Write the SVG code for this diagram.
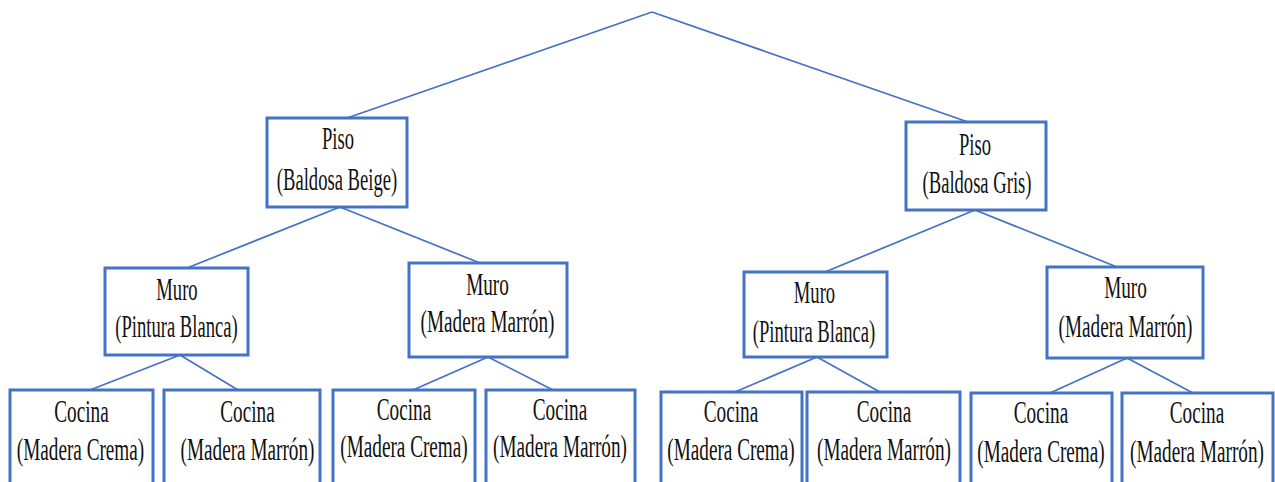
<svg xmlns="http://www.w3.org/2000/svg" width="1275" height="482" viewBox="0 0 1275 482">
<style>
.box{fill:#ffffff;stroke:#4472C4;stroke-width:3}
.ln{stroke:#4472C4;stroke-width:1.7;fill:none}
text{font-family:"Liberation Serif","Times New Roman",serif;font-size:31px;fill:#111111;text-anchor:middle}
</style>
<rect width="1275" height="482" fill="#ffffff"/>
<g id="connectors">
<line class="ln" x1="652" y1="12" x2="347" y2="118"/>
<line class="ln" x1="652" y1="12" x2="968" y2="122"/>
<line class="ln" x1="340" y1="207" x2="187" y2="268"/>
<line class="ln" x1="340" y1="207" x2="480" y2="263"/>
<line class="ln" x1="975" y1="210" x2="825" y2="272"/>
<line class="ln" x1="975" y1="210" x2="1117" y2="267"/>
<line class="ln" x1="180" y1="355" x2="90" y2="390"/>
<line class="ln" x1="180" y1="355" x2="238" y2="390"/>
<line class="ln" x1="488" y1="357" x2="413" y2="390"/>
<line class="ln" x1="488" y1="357" x2="553" y2="390"/>
<line class="ln" x1="817" y1="357" x2="735" y2="392"/>
<line class="ln" x1="817" y1="357" x2="880" y2="392"/>
<line class="ln" x1="1127" y1="358" x2="1050" y2="393"/>
<line class="ln" x1="1127" y1="358" x2="1193" y2="393"/>
</g>
<g id="piso1">
<rect class="box" x="267" y="118" width="140" height="89"/>
<text transform="translate(338,149) scale(0.6,1)">Piso</text>
<text transform="translate(337,190) scale(0.6,1)">(Baldosa Beige)</text>
</g>
<g id="piso2">
<rect class="box" x="906" y="122" width="140" height="88"/>
<text transform="translate(975,155) scale(0.6,1)">Piso</text>
<text transform="translate(977,193) scale(0.6,1)">(Baldosa Gris)</text>
</g>
<g id="muro1">
<rect class="box" x="105" y="268" width="143" height="87"/>
<text transform="translate(177,300) scale(0.6,1)">Muro</text>
<text transform="translate(176.5,337) scale(0.6,1)">(Pintura Blanca)</text>
</g>
<g id="muro2">
<rect class="box" x="409" y="263" width="158" height="94"/>
<text transform="translate(487.5,295) scale(0.62,1)">Muro</text>
<text transform="translate(487.5,332) scale(0.62,1)">(Madera Marrón)</text>
</g>
<g id="muro3">
<rect class="box" x="744" y="272" width="143" height="85"/>
<text transform="translate(814.5,303) scale(0.6,1)">Muro</text>
<text transform="translate(814,342) scale(0.6,1)">(Pintura Blanca)</text>
</g>
<g id="muro4">
<rect class="box" x="1047" y="267" width="156" height="91"/>
<text transform="translate(1125.5,298) scale(0.62,1)">Muro</text>
<text transform="translate(1125.5,337) scale(0.62,1)">(Madera Marrón)</text>
</g>
<g id="cocina1">
<rect class="box" x="10" y="390" width="143" height="110"/>
<text transform="translate(81.5,422) scale(0.62,1)">Cocina</text>
<text transform="translate(80.5,460) scale(0.62,1)">(Madera Crema)</text>
</g>
<g id="cocina2">
<rect class="box" x="164" y="390" width="156" height="110"/>
<text transform="translate(247.5,422) scale(0.62,1)">Cocina</text>
<text transform="translate(247.5,460) scale(0.62,1)">(Madera Marrón)</text>
</g>
<g id="cocina3">
<rect class="box" x="333" y="390" width="142" height="110"/>
<text transform="translate(404,420) scale(0.62,1)">Cocina</text>
<text transform="translate(404,457) scale(0.62,1)">(Madera Crema)</text>
</g>
<g id="cocina4">
<rect class="box" x="486" y="390" width="149" height="110"/>
<text transform="translate(560,420) scale(0.62,1)">Cocina</text>
<text transform="translate(560,457) scale(0.62,1)">(Madera Marrón)</text>
</g>
<g id="cocina5">
<rect class="box" x="661" y="392" width="141" height="110"/>
<text transform="translate(731,422) scale(0.62,1)">Cocina</text>
<text transform="translate(731,460) scale(0.62,1)">(Madera Crema)</text>
</g>
<g id="cocina6">
<rect class="box" x="807" y="392" width="153" height="110"/>
<text transform="translate(884,422) scale(0.62,1)">Cocina</text>
<text transform="translate(884,460) scale(0.62,1)">(Madera Marrón)</text>
</g>
<g id="cocina7">
<rect class="box" x="971" y="393" width="141" height="110"/>
<text transform="translate(1041,423) scale(0.62,1)">Cocina</text>
<text transform="translate(1041,462) scale(0.62,1)">(Madera Crema)</text>
</g>
<g id="cocina8">
<rect class="box" x="1122" y="393" width="151" height="110"/>
<text transform="translate(1197,423) scale(0.62,1)">Cocina</text>
<text transform="translate(1197,462) scale(0.62,1)">(Madera Marrón)</text>
</g>
</svg>
